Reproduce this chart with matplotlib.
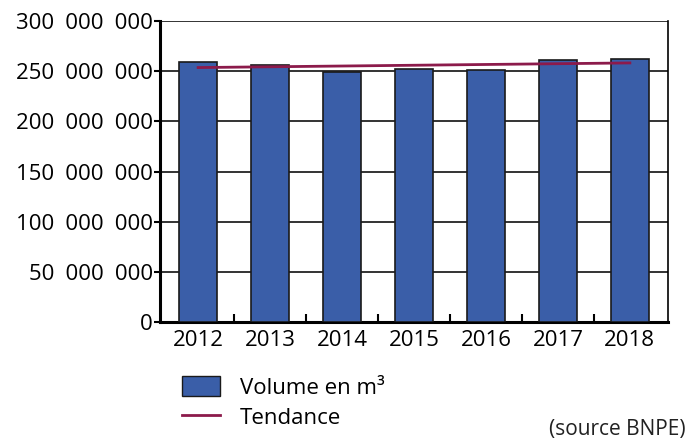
import numpy as np
import matplotlib
matplotlib.use("Agg")
import matplotlib.pyplot as plt
from matplotlib.patches import Patch
from matplotlib.lines import Line2D
from matplotlib.ticker import FuncFormatter, FixedLocator

plt.rcParams['font.family'] = ['Open Sans', 'DejaVu Sans']

years = ["2012", "2013", "2014", "2015", "2016", "2017", "2018"]
volumes = [258.9e6, 255.9e6, 249.5e6, 252.5e6, 251.5e6, 261.0e6, 262.0e6]

bar_color = "#3A5EA8"
trend_color = "#8C1A4B"

fig = plt.figure(figsize=(7, 4.38), dpi=100)
ax = fig.add_axes([160/700, 1 - 322/438, 508/700, 301/438])

x = np.arange(len(years))
ax.bar(x, volumes, width=0.52, color=bar_color, edgecolor="#1a1a1a", linewidth=1.2, zorder=3)

# linear trend through the bars
coef = np.polyfit(x, volumes, 1)
trend = np.polyval(coef, x)
ax.plot(x, trend, color=trend_color, linewidth=2, zorder=4)

ax.set_ylim(0, 300e6)
ax.set_xlim(-0.53, 6.53)
ax.set_yticks(np.arange(0, 300e6 + 1, 50e6))
ax.yaxis.set_major_formatter(FuncFormatter(lambda v, p: f"{int(v):,}".replace(",", "\u2002")))
ax.grid(axis="y", color="#111111", linewidth=1.2, zorder=0)

ax.set_xticks(x)
ax.set_xticklabels(years)
ax.xaxis.set_minor_locator(FixedLocator(x[:-1] + 0.5))
ax.tick_params(axis="x", which="major", length=0, labelsize=16, pad=6)
ax.tick_params(axis="x", which="minor", direction="in", length=6, width=1.5)
ax.tick_params(axis="y", direction="out", length=4, width=1.5, labelsize=16, pad=1)

for s in ["left", "bottom"]:
    ax.spines[s].set_linewidth(2.2)
ax.spines["top"].set_visible(False)
ax.spines["right"].set_linewidth(1.2)

handles = [Patch(facecolor=bar_color, edgecolor="#1a1a1a", linewidth=1),
           Line2D([0], [0], color=trend_color, linewidth=2)]
fig.legend(handles, ["Volume en m³", "Tendance"], loc="upper left",
           bbox_to_anchor=(182/700, 1 - 376/438), frameon=False, fontsize=16,
           borderpad=0, borderaxespad=0,
           handlelength=1.7, handleheight=1.0, labelspacing=0.35, handletextpad=0.9)

fig.text(686/700, 1 - 429/438, "(source BNPE)", ha="right", va="center", fontsize=15, color="#222222")

fig.savefig("out.png", dpi=100)
